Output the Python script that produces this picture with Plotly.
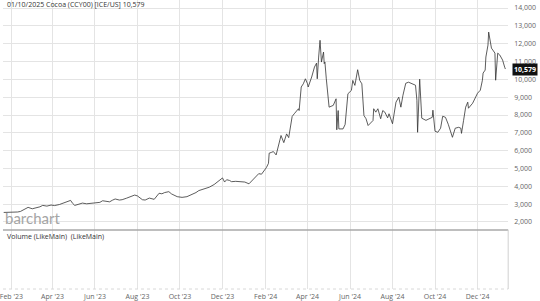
import plotly.graph_objects as go

# ---- data ----
dates = [
    "2023-01-21", "2023-01-28", "2023-02-04", "2023-02-10", "2023-02-14", "2023-02-20", "2023-02-25",
    "2023-03-03", "2023-03-08", "2023-03-14", "2023-03-18", "2023-03-24", "2023-03-30", "2023-04-04",
    "2023-04-11", "2023-04-19", "2023-04-24", "2023-04-27", "2023-04-30", "2023-05-03", "2023-05-09",
    "2023-05-14", "2023-05-20", "2023-05-26", "2023-06-01", "2023-06-08", "2023-06-12", "2023-06-18",
    "2023-06-22", "2023-06-26", "2023-06-30", "2023-07-06", "2023-07-10", "2023-07-16", "2023-07-20",
    "2023-07-28", "2023-08-01", "2023-08-05", "2023-08-08", "2023-08-12", "2023-08-18", "2023-08-25",
    "2023-09-01", "2023-09-05", "2023-09-09", "2023-09-15", "2023-09-19", "2023-09-27", "2023-10-04",
    "2023-10-11", "2023-10-18", "2023-10-24", "2023-10-28", "2023-11-01", "2023-11-05", "2023-11-12",
    "2023-11-19", "2023-11-27", "2023-12-01", "2023-12-04", "2023-12-07", "2023-12-11", "2023-12-14",
    "2023-12-20", "2023-12-24", "2023-12-28", "2024-01-02", "2024-01-08", "2024-01-12", "2024-01-15",
    "2024-01-22", "2024-01-26", "2024-01-31", "2024-02-02", "2024-02-05", "2024-02-06", "2024-02-09",
    "2024-02-12", "2024-02-16", "2024-02-19", "2024-02-23", "2024-02-27", "2024-03-02", "2024-03-05",
    "2024-03-10", "2024-03-13", "2024-03-19", "2024-03-20", "2024-03-23", "2024-03-26", "2024-03-29",
    "2024-04-01", "2024-04-02", "2024-04-07", "2024-04-11", "2024-04-14", "2024-04-15", "2024-04-17",
    "2024-04-19", "2024-04-21", "2024-04-24", "2024-04-25", "2024-04-26", "2024-04-28", "2024-05-02",
    "2024-05-08", "2024-05-12", "2024-05-13", "2024-05-15", "2024-05-16", "2024-05-22", "2024-05-25",
    "2024-05-29", "2024-06-03", "2024-06-05", "2024-06-08", "2024-06-12", "2024-06-15", "2024-06-18",
    "2024-06-21", "2024-06-24", "2024-06-27", "2024-06-30", "2024-07-04", "2024-07-05", "2024-07-08",
    "2024-07-11", "2024-07-15", "2024-07-18", "2024-07-21", "2024-07-25", "2024-07-27", "2024-08-01",
    "2024-08-06", "2024-08-10", "2024-08-13", "2024-08-16", "2024-08-20", "2024-08-24", "2024-08-30",
    "2024-09-03", "2024-09-05", "2024-09-06", "2024-09-09", "2024-09-12", "2024-09-18", "2024-09-22",
    "2024-09-27", "2024-09-28", "2024-10-01", "2024-10-05", "2024-10-09", "2024-10-12", "2024-10-16",
    "2024-10-20", "2024-10-23", "2024-10-26", "2024-10-30", "2024-11-04", "2024-11-07", "2024-11-08",
    "2024-11-11", "2024-11-14", "2024-11-17", "2024-11-18", "2024-11-24", "2024-11-28", "2024-12-01",
    "2024-12-05", "2024-12-08", "2024-12-09", "2024-12-12", "2024-12-13", "2024-12-16", "2024-12-17",
    "2024-12-20", "2024-12-21", "2024-12-23", "2024-12-26", "2024-12-27", "2024-12-29", "2024-12-30",
    "2025-01-02", "2025-01-05", "2025-01-06", "2025-01-09", "2025-01-10",
]
prices = [
    2535, 2540, 2530, 2560, 2590, 2700, 2820,
    2740, 2780, 2850, 2930, 2890, 2950, 2920,
    2980, 3100, 3150, 3210, 3040, 2930, 3000,
    3060, 3020, 3050, 3080, 3100, 3190, 3160,
    3130, 3220, 3290, 3230, 3250, 3330, 3380,
    3510, 3460, 3360, 3250, 3230, 3340, 3270,
    3610, 3580, 3650, 3700, 3570, 3420, 3380,
    3420, 3530, 3650, 3760, 3800, 3860, 3950,
    4100, 4370, 4470, 4240, 4370, 4330, 4260,
    4280, 4260, 4250, 4240, 4140, 4300, 4430,
    4710, 4680, 4900, 5050, 5290, 5860, 5900,
    5950, 5760, 6200, 6850, 6450, 6940, 6730,
    7920, 8070, 8350, 8250, 9570, 9750, 10030,
    9750, 9570, 10130, 10690, 10910, 10030, 11250,
    12190, 10970, 11530, 10880, 10970, 10030, 8440,
    8540, 8910, 7170, 8250, 7220, 7220, 7470,
    9190, 9380, 9940, 9660, 10540, 9940, 9750,
    7970, 7790, 7410, 7510, 7690, 8350, 8160,
    8350, 7790, 8250, 8160, 7840, 8070, 7510,
    8720, 9000, 8440, 9110, 9780, 9840, 9730,
    9670, 8830, 7030, 10010, 7820, 7700, 7760,
    7870, 8270, 7090, 7030, 7260, 7930, 7870,
    7480, 7140, 6750, 7260, 7310, 7260, 6970,
    7700, 8440, 8720, 8380, 8660, 8940, 9220,
    9390, 9950, 10350, 10520, 11250, 11920, 12650,
    12030, 11750, 11640, 11470, 9950, 11190, 11470,
    11360, 11190, 11080, 10680, 10579,
]
price_ticks = [2000, 3000, 4000, 5000, 6000, 7000, 8000, 9000, 10000, 11000, 12000, 13000, 14000]
price_tick_labels = ["2,000", "3,000", "4,000", "5,000", "6,000", "7,000", "8,000", "9,000",
                     "10,000", "11,000", "12,000", "13,000", "14,000"]
title_text = "01/10/2025 Cocoa (CCY00) [ICE/US] 10,579"
volume_text = "Volume (LikeMain)  (LikeMain)"
last_label = "10,579"
last_value = 10579

W, H = 540, 301
plot_right = 508 / W
price_bottom = 1 - 230 / H
vol_bottom = 1 - 289 / H
x_range = ["2023-01-20", "2025-01-14"]
grid = "#e4e4e4"
tick_font = dict(family="Open Sans, Arial, sans-serif", size=7, color="#666666")

fig = go.Figure()
fig.add_trace(go.Scatter(x=dates, y=prices, mode="lines",
                         line=dict(color="#333333", width=0.8),
                         xaxis="x", yaxis="y", hoverinfo="skip"))
fig.add_trace(go.Scatter(x=[dates[0]], y=[0.5], mode="markers",
                         marker=dict(opacity=0), xaxis="x2", yaxis="y2", hoverinfo="skip"))

fig.update_layout(
    width=W, height=H, margin=dict(l=0, r=0, t=0, b=0),
    paper_bgcolor="white", plot_bgcolor="white", showlegend=False,
    xaxis=dict(domain=[0, plot_right], range=x_range, anchor="y", showticklabels=False,
               showgrid=True, gridcolor=grid, gridwidth=1, tick0="2023-02-01", dtick="M2",
               zeroline=False, showline=False, ticks=""),
    yaxis=dict(domain=[price_bottom, 1], range=[1550, 14450], side="right", anchor="x",
               tickvals=price_ticks, ticktext=price_tick_labels, tickfont=tick_font,
               showgrid=True, gridcolor=grid, gridwidth=1, zeroline=False, showline=False,
               ticks="", ticklabelstandoff=5),
    xaxis2=dict(domain=[0, plot_right], range=x_range, anchor="y2", tick0="2023-02-01", dtick="M2",
                tickformat="%b '%y", tickfont=tick_font, showgrid=True, gridcolor=grid,
                zeroline=False, showline=False, ticks="", ticklabelstandoff=2,
                ticklabeloverflow="allow"),
    yaxis2=dict(domain=[vol_bottom, price_bottom], range=[0, 1], showticklabels=False,
                showgrid=False, zeroline=False, showline=False, side="right", anchor="x2"),
)

fig.add_shape(type="line", xref="paper", yref="paper", x0=0, x1=plot_right,
              y0=price_bottom, y1=price_bottom, line=dict(color="#a8a8a8", width=1.5))
fig.add_shape(type="line", xref="paper", yref="paper", x0=plot_right, x1=plot_right,
              y0=vol_bottom, y1=price_bottom, line=dict(color="#d0d0d0", width=1))
fig.add_shape(type="line", xref="paper", yref="paper", x0=0, x1=plot_right,
              y0=vol_bottom, y1=vol_bottom, line=dict(color="#d8d8d8", width=1, dash="dot"))

fig.add_annotation(text=title_text, xref="paper", yref="paper", x=2 / W, y=1 - 5 / H,
                   xanchor="left", yanchor="middle", showarrow=False,
                   font=dict(family="Open Sans, Arial, sans-serif", size=7, color="#333333"))
fig.add_annotation(text=volume_text, xref="paper", yref="paper", x=2 / W, y=1 - 236 / H,
                   xanchor="left", yanchor="middle", showarrow=False,
                   font=dict(family="Open Sans, Arial, sans-serif", size=7, color="#333333"))
fig.add_annotation(text="barchart", xref="paper", yref="paper", x=0, y=1 - 218 / H,
                   xanchor="left", yanchor="middle", showarrow=False,
                   font=dict(family="Lato, Open Sans, sans-serif", size=15, color="#a5a5a5"))
fig.add_annotation(text="<b>" + last_label + "</b>", xref="paper", yref="y", x=512 / W, y=last_value,
                   xanchor="left", yanchor="middle", showarrow=False, bgcolor="#111111",
                   borderpad=1, font=dict(family="Open Sans, Arial, sans-serif", size=7, color="white"))

fig.write_html("out.html")
